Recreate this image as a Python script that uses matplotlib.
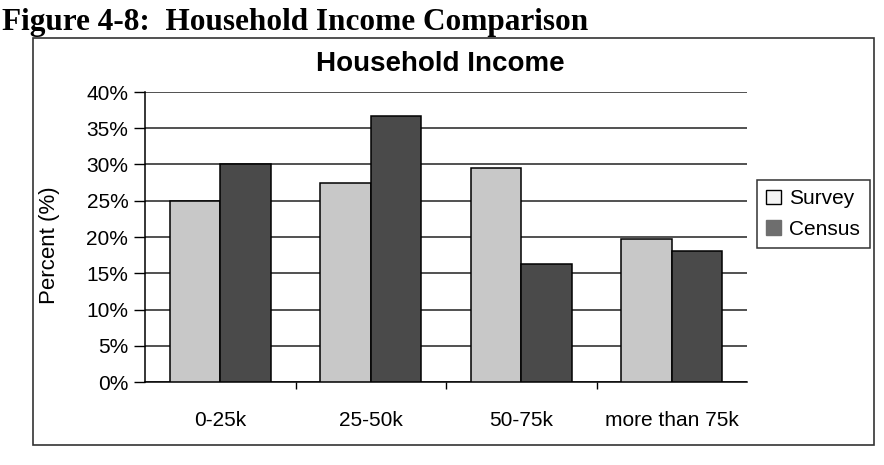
import matplotlib
matplotlib.use('Agg')
import matplotlib.pyplot as plt
import numpy as np
from matplotlib.patches import Patch, Rectangle
from matplotlib.ticker import FuncFormatter, FixedLocator

# Household income shares (percent)
categories = ['0-25k', '25-50k', '50-75k', 'more than 75k']
survey = [25.0, 27.5, 29.5, 19.7]
census = [30.0, 36.7, 16.3, 18.0]
y_ticks = [0, 5, 10, 15, 20, 25, 30, 35, 40]

W, H = 884, 465
fig = plt.figure(figsize=(W / 100, H / 100), dpi=100)
fig.patch.set_facecolor('white')

sans = ['Liberation Sans', 'DejaVu Sans']
serif = ['Liberation Serif', 'DejaVu Serif']

def fx(px):
    return px / W

def fy(py):
    return 1 - py / H

# report caption above the chart frame
fig.text(fx(2), fy(30), 'Figure 4-8:  Household Income Comparison',
         family=serif, weight='bold', fontsize=22.5, ha='left', va='baseline')

# chart frame
fig.patches.append(Rectangle((fx(33), fy(445)), fx(874) - fx(33), fy(38) - fy(445),
                             transform=fig.transFigure, fill=False,
                             edgecolor='#333333', linewidth=1.2))

ax = fig.add_axes([fx(145), fy(382), fx(747) - fx(145), fy(92) - fy(382)])

x = np.arange(len(categories)) + 0.5
w = 0.335
ax.bar(x - w / 2, survey, w, color='#c8c8c8', edgecolor='black', linewidth=1.1, zorder=3)
ax.bar(x + w / 2, census, w, color='#4a4a4a', edgecolor='black', linewidth=1.1, zorder=3)

ax.set_xlim(0, len(categories))
ax.set_ylim(0, 40)
ax.set_yticks(y_ticks)
ax.yaxis.set_major_formatter(FuncFormatter(lambda v, p: f'{v:.0f}%'))
ax.yaxis.grid(True, color='#222222', linewidth=1.1, zorder=0)
ax.set_axisbelow(True)

ax.set_xticks(x)
ax.set_xticklabels(categories, family=sans, fontsize=15)
ax.xaxis.set_minor_locator(FixedLocator([1, 2, 3]))
ax.tick_params(axis='x', which='major', length=0, pad=21)
ax.tick_params(axis='x', which='minor', length=5, direction='out', width=1)
ax.tick_params(axis='y', length=8, direction='out', width=1, pad=4, labelsize=15)
for lab in ax.get_yticklabels():
    lab.set_family(sans)

for side in ['top', 'right']:
    ax.spines[side].set_visible(False)
ax.spines['left'].set_linewidth(1.1)
ax.spines['bottom'].set_linewidth(1.1)

fig.text(fx(440), fy(64), 'Household Income', family=sans, weight='bold',
         fontsize=20, ha='center', va='center')
fig.text(fx(50), fy(245), 'Percent (%)', family=sans, fontsize=16,
         rotation=90, ha='center', va='center')

handles = [Patch(facecolor='#f4f4f4', edgecolor='black', linewidth=1),
           Patch(facecolor='#6e6e6e', edgecolor='#6e6e6e')]
leg = fig.legend(handles, ['Survey', 'Census'], loc='upper left',
                 bbox_to_anchor=(fx(757), fy(180)), bbox_transform=fig.transFigure,
                 prop={'family': sans, 'size': 15}, fancybox=False,
                 edgecolor='#333333', framealpha=1, borderpad=0.45,
                 handlelength=0.7, handleheight=0.7, handletextpad=0.4,
                 labelspacing=0.55, borderaxespad=0)
leg.get_frame().set_linewidth(1.1)

fig.savefig('out.png', dpi=100)
